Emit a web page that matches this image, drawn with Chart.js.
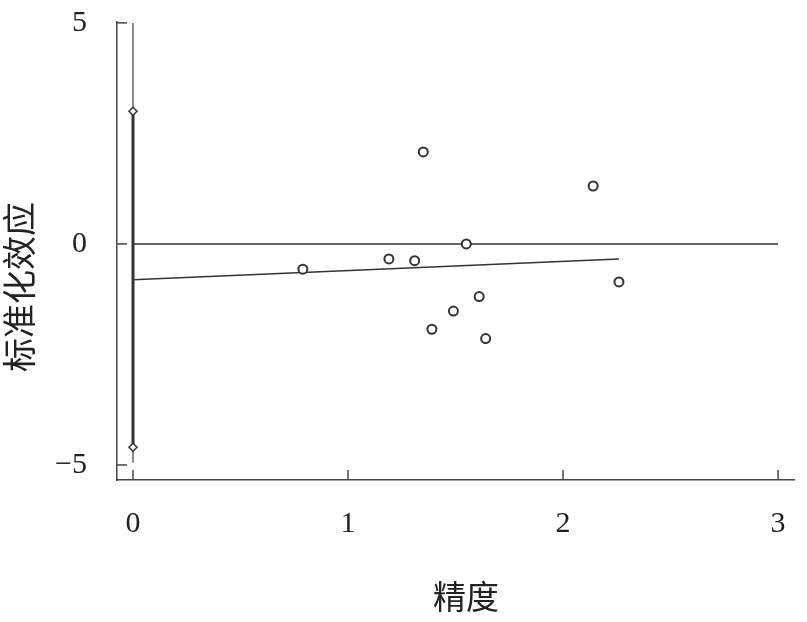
<!DOCTYPE html>
<html>
<head>
<meta charset="utf-8">
<script src="https://cdn.jsdelivr.net/npm/chart.js@4/dist/chart.umd.min.js"></script>
<style>
html,body{margin:0;padding:0;background:#fff;}
#wrap{width:807px;height:622px;}
</style>
</head>
<body>
<div id="wrap"><canvas id="c" width="807" height="622"></canvas></div>
<script>
// Study points (precision, standardized effect)
const precision = [0.79, 1.19, 1.31, 1.35, 1.55, 2.14, 2.26, 1.61, 1.49, 1.39, 1.64];
const stdEffect = [-0.57, -0.34, -0.38, 2.08, 0.00, 1.31, -0.86, -1.19, -1.52, -1.93, -2.14];
// Regression line endpoints
const regX = [0, 2.26];
const regY = [-0.81, -0.34];
// Zero reference line
const zeroX = [0, 3];
const zeroY = [0, 0];
// Vertical line at precision 0 (full) and band with diamond ends
const vLineY = [5, -4.95];
const bandY = [3, -4.6];
// Tick values
const xTicks = [0, 1, 2, 3];
const yTicks = [-5, 0, 5];
// Axis titles
const xTitle = '精度';
const yTitle = '标准化效应';

const pts = precision.map((x, i) => ({x, y: stdEffect[i]}));
const toXY = (xs, ys) => xs.map((x, i) => ({x, y: ys[i]}));

const innerTicks = {
  id: 'innerTicks',
  afterDatasetsDraw(chart) {
    const ctx = chart.ctx;
    const xs = chart.scales.x, ys = chart.scales.y;
    ctx.save();
    ctx.strokeStyle = '#444';
    ctx.lineWidth = 1.5;
    xs.ticks.forEach(t => {
      const p = xs.getPixelForValue(t.value);
      ctx.beginPath(); ctx.moveTo(p, xs.top); ctx.lineTo(p, xs.top - 10); ctx.stroke();
    });
    ys.ticks.forEach(t => {
      const p = ys.getPixelForValue(t.value);
      ctx.beginPath(); ctx.moveTo(ys.right, p); ctx.lineTo(ys.right + 10, p); ctx.stroke();
    });
    // axis titles
    ctx.fillStyle = '#222';
    ctx.textAlign = 'center';
    ctx.textBaseline = 'middle';
    ctx.font = '33px "Noto Sans CJK SC", sans-serif';
    ctx.fillText(xTitle, 466, 596);
    ctx.save();
    ctx.translate(19, 287);
    ctx.rotate(-Math.PI / 2);
    ctx.font = '34px "Noto Sans CJK SC", sans-serif';
    ctx.fillText(yTitle, 0, 0);
    ctx.restore();
    ctx.restore();
  }
};

new Chart(document.getElementById('c'), {
  type: 'scatter',
  data: {
    datasets: [
      {
        data: pts, order: 0, pointStyle: 'circle', pointRadius: 4.5, backgroundColor: '#fff',
        borderColor: '#333', borderWidth: 2
      },
      {
        type: 'line', order: 1, data: toXY([0, 0], bandY), borderColor: '#333', borderWidth: 3,
        pointStyle: 'rectRot', pointRadius: 4, pointBackgroundColor: '#fff',
        pointBorderColor: '#333', pointBorderWidth: 1.5, fill: false
      },
      {
        type: 'line', order: 2, data: toXY(zeroX, zeroY), borderColor: '#333', borderWidth: 1.5,
        pointRadius: 0, fill: false
      },
      {
        type: 'line', order: 2, data: toXY(regX, regY), borderColor: '#333', borderWidth: 1.5,
        pointRadius: 0, fill: false
      },
      {
        type: 'line', order: 3, data: toXY([0, 0], vLineY), borderColor: '#8a8a8a', borderWidth: 2,
        pointRadius: 0, fill: false
      }
    ]
  },
  options: {
    responsive: false,
    animation: false,
    devicePixelRatio: 1,
    layout: {padding: {left: 0, top: 22, right: 13, bottom: 0}},
    plugins: {legend: {display: false}, tooltip: {enabled: false}},
    scales: {
      x: {
        type: 'linear', min: -0.0744, max: 3.074,
        afterBuildTicks: s => { s.ticks = xTicks.map(v => ({value: v})); },
        afterFit: s => { s.height = 142; s.paddingLeft = 0; s.paddingRight = 0; },
        grid: {display: false, drawTicks: false},
        border: {display: true, color: '#444', width: 1.5},
        ticks: {
          padding: 26, color: '#222',
          font: {family: '"Liberation Serif", "DejaVu Serif", serif', size: 30},
          callback: v => String(v).replace('-', '\u2212')
        },
        title: {display: false}
      },
      y: {
        type: 'linear', min: -5.34, max: 5.02,
        afterBuildTicks: s => { s.ticks = yTicks.map(v => ({value: v})); },
        afterFit: s => { s.width = 117; s.paddingTop = 0; s.paddingBottom = 0; },
        grid: {display: false, drawTicks: false},
        border: {display: true, color: '#444', width: 1.5},
        ticks: {
          padding: 30, color: '#222',
          font: {family: '"Liberation Serif", "DejaVu Serif", serif', size: 30},
          callback: v => String(v).replace('-', '\u2212')
        },
        title: {display: false}
      }
    }
  },
  plugins: [innerTicks]
});
</script>
</body>
</html>
